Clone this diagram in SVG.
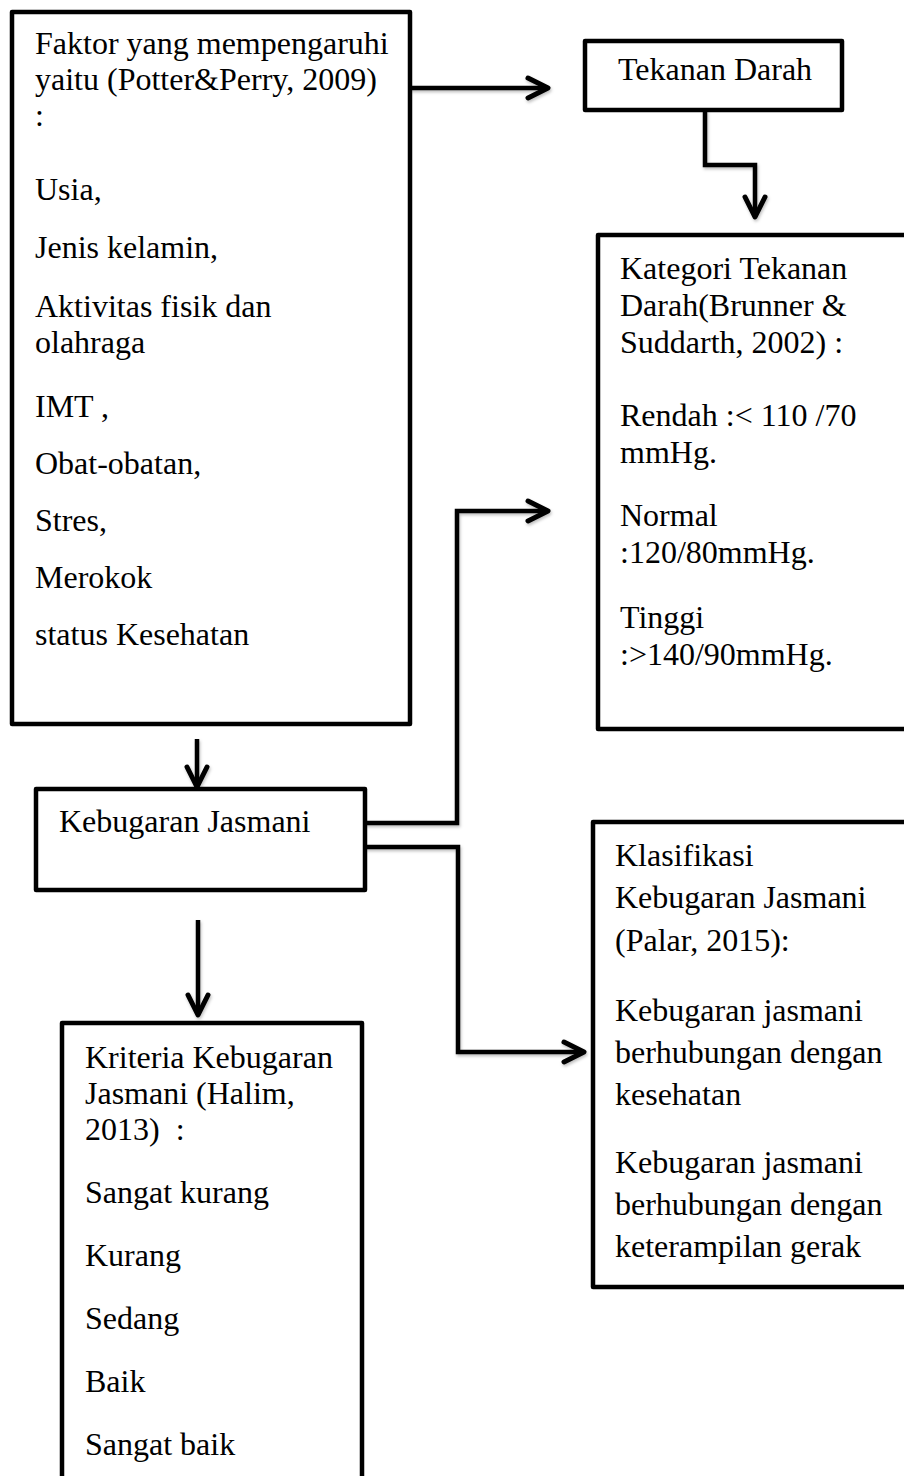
<svg xmlns="http://www.w3.org/2000/svg" width="904" height="1476" viewBox="0 0 904 1476">
<defs>
<style>
.box{fill:#fff;stroke:#000;stroke-width:4.5;stroke-linejoin:round}
.t{font-family:"Liberation Serif","Times New Roman",serif;font-size:32px;fill:#000}
.c{fill:none;stroke:#000;stroke-width:4.5;stroke-linejoin:miter}
</style>
<marker id="ah" markerUnits="userSpaceOnUse" markerWidth="30" markerHeight="30" viewBox="-25 -15 30 30" refX="0" refY="0" orient="auto">
<path d="M-20,-10 L0,0 L-20,10" fill="none" stroke="#000" stroke-width="5" stroke-linecap="round" stroke-linejoin="round"/>
</marker>
<filter id="sh" x="-10%" y="-10%" width="120%" height="120%">
<feDropShadow dx="1" dy="2" stdDeviation="1.5" flood-color="#000" flood-opacity="0.25"/>
</filter>
</defs>
<rect width="904" height="1476" fill="#fff"/>
<g id="connectors" filter="url(#sh)">
<path class="c" d="M410,88 H548" marker-end="url(#ah)"/>
<path class="c" d="M705,110 V165 H755 V217" marker-end="url(#ah)"/>
<path class="c" d="M197,739 V787" marker-end="url(#ah)"/>
<path class="c" d="M365,823 H457 V511 H548" marker-end="url(#ah)"/>
<path class="c" d="M365,847 H458 V1052 H584" marker-end="url(#ah)"/>
<path class="c" d="M198,920 V1015" marker-end="url(#ah)"/>
</g>
<g id="faktor">
<rect class="box" x="12" y="12" width="398" height="712"/>
<text class="t" x="35" y="54">Faktor yang mempengaruhi</text>
<text class="t" x="35" y="90">yaitu (Potter&amp;Perry, 2009)</text>
<text class="t" x="35" y="126">:</text>
<text class="t" x="35" y="200">Usia,</text>
<text class="t" x="35" y="258">Jenis kelamin,</text>
<text class="t" x="35" y="317">Aktivitas fisik dan</text>
<text class="t" x="35" y="353">olahraga</text>
<text class="t" x="35" y="417">IMT ,</text>
<text class="t" x="35" y="474">Obat-obatan,</text>
<text class="t" x="35" y="531">Stres,</text>
<text class="t" x="35" y="588">Merokok</text>
<text class="t" x="35" y="645">status Kesehatan</text>
</g>
<g id="tekanan">
<rect class="box" x="585" y="41" width="257" height="69"/>
<text class="t" x="618" y="80">Tekanan Darah</text>
</g>
<g id="kategori">
<rect class="box" x="598" y="235" width="330" height="494"/>
<text class="t" x="620" y="279">Kategori Tekanan</text>
<text class="t" x="620" y="316">Darah(Brunner &amp;</text>
<text class="t" x="620" y="353">Suddarth, 2002) :</text>
<text class="t" x="620" y="426">Rendah :&lt; 110 /70</text>
<text class="t" x="620" y="463">mmHg.</text>
<text class="t" x="620" y="526">Normal</text>
<text class="t" x="620" y="563">:120/80mmHg.</text>
<text class="t" x="620" y="628">Tinggi</text>
<text class="t" x="620" y="665">:&gt;140/90mmHg.</text>
</g>
<g id="kebugaran">
<rect class="box" x="36" y="789" width="329" height="101"/>
<text class="t" x="59" y="832">Kebugaran Jasmani</text>
</g>
<g id="klasifikasi">
<rect class="box" x="593" y="822" width="330" height="465"/>
<text class="t" x="615" y="866">Klasifikasi</text>
<text class="t" x="615" y="908">Kebugaran Jasmani</text>
<text class="t" x="615" y="951">(Palar, 2015):</text>
<text class="t" x="615" y="1021">Kebugaran jasmani</text>
<text class="t" x="615" y="1063">berhubungan dengan</text>
<text class="t" x="615" y="1105">kesehatan</text>
<text class="t" x="615" y="1173">Kebugaran jasmani</text>
<text class="t" x="615" y="1215">berhubungan dengan</text>
<text class="t" x="615" y="1257">keterampilan gerak</text>
</g>
<g id="kriteria">
<rect class="box" x="62" y="1023" width="300" height="480"/>
<text class="t" x="85" y="1068">Kriteria Kebugaran</text>
<text class="t" x="85" y="1104">Jasmani (Halim,</text>
<text class="t" x="85" y="1140" xml:space="preserve">2013)  :</text>
<text class="t" x="85" y="1203">Sangat kurang</text>
<text class="t" x="85" y="1266">Kurang</text>
<text class="t" x="85" y="1329">Sedang</text>
<text class="t" x="85" y="1392">Baik</text>
<text class="t" x="85" y="1455">Sangat baik</text>
</g>
</svg>
